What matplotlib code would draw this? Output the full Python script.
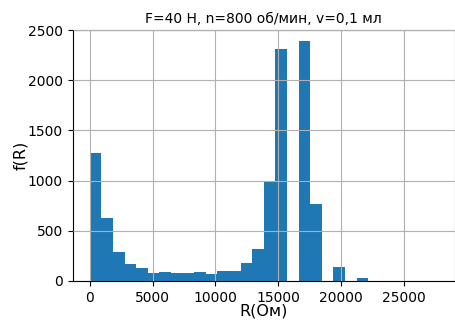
import numpy as np
import matplotlib
matplotlib.use("Agg")
import matplotlib.pyplot as plt

r_min = 0
r_max = 27700
n_bins = 30
counts = [1278, 631, 286, 169, 126, 77, 90, 77, 77, 90, 67, 103, 103, 182, 322,
          993, 2308, 0, 2387, 764, 0, 136, 0, 33, 0, 0, 0, 0, 0, 0]
title = "F=40 Н, n=800 об/мин, v=0,1 мл"
xlabel = "R(Ом)"
ylabel = "f(R)"

edges = np.linspace(r_min, r_max, n_bins + 1)
centers = (edges[:-1] + edges[1:]) / 2

fig = plt.figure(figsize=(4.56, 3.24), dpi=100)
ax = fig.add_axes([0.159, 0.133, 0.839, 0.774])
ax.hist(centers, bins=edges, weights=counts, color="#1f77b4")
ax.set_ylim(0, 2500)
ax.set_yticks([0, 500, 1000, 1500, 2000, 2500])
ax.set_xticks([0, 5000, 10000, 15000, 20000, 25000])
ax.grid(True)
ax.set_axisbelow(False)
ax.set_title(title, fontsize=10, pad=5)
ax.set_xlabel(xlabel, fontsize=11.5, labelpad=-1)
ax.set_ylabel(ylabel, fontsize=11.5, labelpad=0)
fig.savefig("out.png", dpi=100)
